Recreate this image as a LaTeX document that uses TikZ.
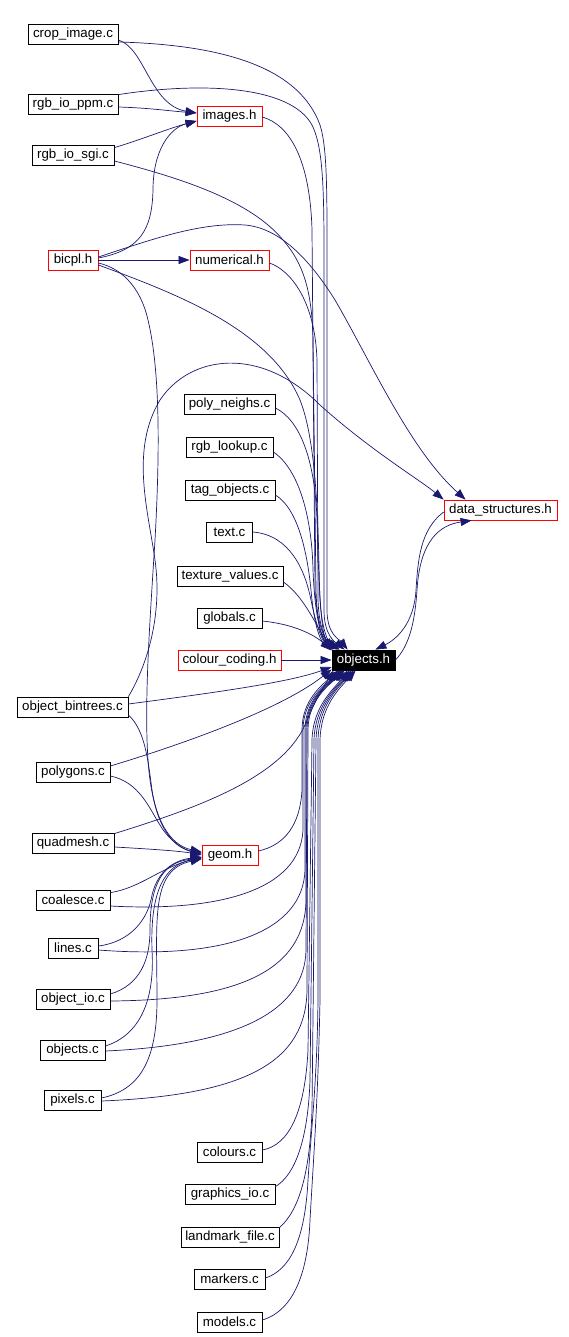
\documentclass[tikz,border=0pt]{standalone}
\usepackage{fontspec}
\setmainfont{Liberation Sans}
\usetikzlibrary{arrows.meta,calc}
\definecolor{mblue}{RGB}{25,25,112}
\tikzset{
  box/.style={draw=black, fill=white, line width=0.8pt, minimum height=20pt, inner sep=0pt, font=\fontsize{13.3}{15}\selectfont},
  rbox/.style={box, draw=red},
  hbox/.style={box, fill=black, text=white},
  edge/.style={draw=mblue, line width=0.7pt, -{Triangle[length=11pt,width=8pt]}}
}
\begin{document}
\begin{tikzpicture}[x=1pt,y=-1pt]
\useasboundingbox (0,0) rectangle (569,1337);
% nodes
\node[box, minimum width=90pt] (crop) at (73,34) {crop\_image.c};
\node[box, minimum width=90pt] (ppm) at (73,104) {rgb\_io\_ppm.c};
\node[box, minimum width=82pt] (sgi) at (73,155) {rgb\_io\_sgi.c};
\node[rbox, minimum width=50pt] (bicpl) at (73,260) {bicpl.h};
\node[rbox, minimum width=65pt] (images) at (229.5,116) {images.h};
\node[rbox, minimum width=79pt] (numerical) at (229.5,260) {numerical.h};
\node[box, minimum width=91pt] (poly) at (229.5,404) {poly\_neighs.c};
\node[box, minimum width=87pt] (lookup) at (229.5,447) {rgb\_lookup.c};
\node[box, minimum width=90pt] (tag) at (230,490) {tag\_objects.c};
\node[box, minimum width=46pt] (text) at (229.5,532) {text.c};
\node[box, minimum width=106pt] (texture) at (230,576) {texture\_values.c};
\node[box, minimum width=65pt] (globals) at (229.5,618) {globals.c};
\node[rbox, minimum width=103pt] (cc) at (229.5,660) {colour\_coding.h};
\node[hbox, minimum width=63pt] (objh) at (363.5,660) {objects.h};
\node[rbox, minimum width=113pt] (ds) at (500.5,510) {data\_structures.h};
\node[box, minimum width=111pt] (bintrees) at (72.5,707) {object\_bintrees.c};
\node[box, minimum width=74pt] (polygons) at (73,772) {polygons.c};
\node[box, minimum width=82pt] (quadmesh) at (73,843) {quadmesh.c};
\node[rbox, minimum width=56pt] (geom) at (230,855) {geom.h};
\node[box, minimum width=74pt] (coalesce) at (73,900) {coalesce.c};
\node[box, minimum width=50pt] (lines) at (73,948) {lines.c};
\node[box, minimum width=74pt] (objio) at (73,999) {object\_io.c};
\node[box, minimum width=65pt] (objc) at (72.5,1050) {objects.c};
\node[box, minimum width=57pt] (pixels) at (72.5,1100) {pixels.c};
\node[box, minimum width=65pt] (colours) at (229.5,1152) {colours.c};
\node[box, minimum width=90pt] (graphics) at (230,1194) {graphics\_io.c};
\node[box, minimum width=98pt] (landmark) at (230,1237) {landmark\_file.c};
\node[box, minimum width=71pt] (markers) at (229.5,1279) {markers.c};
\node[box, minimum width=65pt] (models) at (229.5,1322) {models.c};
% top group
\draw[edge] ($(crop.east)+(0,6)$) .. controls (145,48) and (150,105) .. ($(images.west)+(0,-3)$);
\draw[edge] ($(crop.east)+(0,8)$) .. controls (230,45) and (300,70) .. (320,125) .. controls (328,150) and (327,200) .. (327,300) -- (327,610) .. controls (327,635) and (340,640) .. ($(objh.north west)+(16,0)$);
\draw[edge] ($(ppm.east)+(0,3)$) .. controls (150,108) and (170,111) .. ($(images.west)+(0,-3)$);
\draw[edge] ($(ppm.north east)+(0,1)$) .. controls (200,82) and (290,85) .. (312,125) .. controls (322,145) and (324,180) .. (324,250) -- (324,610) .. controls (324,635) and (335,642) .. ($(objh.north west)+(13,0)$);
\draw[edge] ($(sgi.north east)+(0,3)$) .. controls (140,140) and (170,128) .. ($(images.west)+(0,5)$);
\draw[edge] ($(sgi.east)+(0,6)$) .. controls (180,178) and (250,200) .. (283,240) .. controls (303,263) and (312,290) .. (313,340) -- (316,590) .. controls (317,625) and (322,640) .. ($(objh.north west)+(5,0)$);
\draw[edge] ($(bicpl.east)+(0,-2)$) .. controls (140,250) and (152,230) .. (153,190) .. controls (153,150) and (170,128) .. ($(images.west)+(0,5)$);
\draw[edge] (bicpl.east) -- (numerical.west);
\draw[edge] ($(bicpl.east)+(0,3)$) .. controls (120,268) and (140,285) .. (148,320) .. controls (160,370) and (160,450) .. (155,540) .. controls (150,620) and (144,700) .. (148,760) .. controls (152,820) and (170,845) .. ($(geom.west)+(0,-3)$);
\draw[edge] ($(bicpl.east)+(0,-3)$) .. controls (150,240) and (200,222) .. (245,225) .. controls (280,228) and (310,260) .. (335,300) .. controls (370,360) and (410,450) .. ($(ds.north west)+(22,0)$);
\draw[edge] ($(bicpl.east)+(0,5)$) .. controls (180,295) and (270,330) .. (300,400) .. controls (320,450) and (318,560) .. (320,600) .. controls (322,630) and (328,642) .. ($(objh.north west)+(8,0)$);
\draw[edge] ($(images.east)+(0,1)$) .. controls (290,125) and (310,160) .. (312,230) -- (315,590) .. controls (317,625) and (325,640) .. ($(objh.north west)+(6,0)$);
\draw[edge] ($(numerical.east)+(0,3)$) .. controls (290,270) and (315,300) .. (317,360) -- (318,600) .. controls (319,630) and (327,642) .. ($(objh.north west)+(7,0)$);
% upper-left group
\draw[edge] ($(poly.east)+(0,4)$) .. controls (300,420) and (315,460) .. (317,520) .. controls (319,600) and (322,635) .. ($(objh.north west)+(1,0)$);
\draw[edge] ($(lookup.east)+(0,5)$) .. controls (300,470) and (312,520) .. (313,570) .. controls (315,620) and (322,638) .. (objh.north west);
\draw[edge] ($(tag.east)+(0,5)$) .. controls (300,510) and (308,560) .. (311,590) .. controls (314,625) and (320,640) .. (objh.north west);
\draw[edge] (text.east) .. controls (290,535) and (305,570) .. (311,600) .. controls (316,625) and (322,640) .. ($(objh.north west)+(1,0)$);
\draw[edge] ($(texture.east)+(0,6)$) .. controls (305,597) and (318,630) .. ($(objh.north west)+(2,0)$);
\draw[edge] ($(globals.east)+(0,3)$) .. controls (300,625) and (318,638) .. ($(objh.north west)+(0,1)$);
\draw[edge] (cc.east) -- (objh.west);
% data_structures cycle
\draw[edge] ($(ds.west)+(0,2)$) .. controls (420,530) and (418,560) .. (416,590) .. controls (414,625) and (395,640) .. ($(objh.north east)+(-20,0)$);
\draw[edge] (objh.east) .. controls (410,645) and (415,620) .. (417,590) .. controls (420,540) and (440,525) .. ($(ds.south west)+(28,0)$);
% object_bintrees
\draw[edge] (bintrees.north east) .. controls (150,660) and (162,610) .. (155,560) .. controls (148,510) and (130,450) .. (160,400) .. controls (190,355) and (260,345) .. (320,405) .. controls (370,450) and (420,480) .. (ds.north west);
\draw[edge] ($(bintrees.east)+(0,-3)$) .. controls (220,692) and (290,682) .. ($(objh.west)+(0,7)$);
\draw[edge] ($(bintrees.east)+(0,8)$) .. controls (145,730) and (148,760) .. (152,790) .. controls (158,830) and (175,848) .. ($(geom.west)+(0,-2)$);
% polygons, quadmesh
\draw[edge] ($(polygons.east)+(0,-6)$) .. controls (180,745) and (280,710) .. ($(objh.south west)+(0,-1)$);
\draw[edge] ($(polygons.east)+(0,4)$) .. controls (140,782) and (150,810) .. (160,825) .. controls (170,842) and (185,850) .. ($(geom.west)+(0,-1)$);
\draw[edge] ($(quadmesh.north east)+(0,1)$) .. controls (190,810) and (280,780) .. (305,725) .. controls (315,700) and (325,685) .. ($(objh.south west)+(2,0)$);
\draw[edge] ($(quadmesh.east)+(0,4)$) .. controls (150,849) and (180,851) .. (geom.west);
% lower-left group
\draw[edge] ($(geom.east)+(0,-4)$) .. controls (285,845) and (300,825) .. (302,790) -- (302,730) .. controls (302,700) and (322,685) .. ($(objh.south west)+(7,0)$);
\draw[edge] ($(coalesce.north east)+(0,3)$) .. controls (140,888) and (160,868) .. ($(geom.west)+(0,2)$);
\draw[edge] ($(coalesce.east)+(0,6)$) .. controls (220,912) and (300,890) .. (303,830) -- (303,730) .. controls (303,700) and (325,685) .. ($(objh.south west)+(8,0)$);
\draw[edge] ($(lines.east)+(0,-2)$) .. controls (130,942) and (148,920) .. (152,895) .. controls (158,870) and (175,860) .. ($(geom.west)+(0,2)$);
\draw[edge] ($(lines.east)+(0,2)$) .. controls (230,960) and (303,930) .. (305,870) -- (305,730) .. controls (305,700) and (326,685) .. ($(objh.south west)+(10,0)$);
\draw[edge] ($(objio.east)+(0,-5)$) .. controls (140,985) and (150,960) .. (150,930) .. controls (150,880) and (165,862) .. ($(geom.west)+(0,3)$);
\draw[edge] ($(objio.east)+(0,2)$) .. controls (240,1000) and (305,970) .. (306,900) -- (306,730) .. controls (306,700) and (327,685) .. ($(objh.south west)+(11,0)$);
\draw[edge] ($(objc.east)+(0,-4)$) .. controls (140,1035) and (155,1000) .. (152,950) .. controls (150,890) and (165,865) .. ($(geom.west)+(0,3)$);
\draw[edge] ($(objc.east)+(0,1)$) .. controls (240,1045) and (305,1010) .. (306,950) -- (307,730) .. controls (307,700) and (328,685) .. ($(objh.south west)+(12,0)$);
\draw[edge] ($(pixels.east)+(0,-2)$) .. controls (140,1090) and (157,1060) .. (157,1000) .. controls (157,920) and (150,870) .. ($(geom.west)+(0,4)$);
\draw[edge] ($(pixels.east)+(0,1)$) .. controls (250,1095) and (306,1060) .. (307,990) -- (308,730) .. controls (308,700) and (329,685) .. ($(objh.south west)+(13,0)$);
% bottom group
\draw[edge] ($(colours.east)+(0,-2)$) .. controls (290,1145) and (305,1110) .. (308,1050) -- (312,740) .. controls (313,705) and (335,688) .. ($(objh.south west)+(16,0)$);
\draw[edge] ($(graphics.north east)+(0,3)$) .. controls (295,1175) and (308,1140) .. (310,1080) -- (314,740) .. controls (315,705) and (336,688) .. ($(objh.south west)+(18,0)$);
\draw[edge] ($(landmark.north east)+(0,1)$) .. controls (300,1210) and (310,1170) .. (312,1110) -- (316,740) .. controls (317,705) and (337,688) .. ($(objh.south west)+(20,0)$);
\draw[edge] ($(markers.east)+(0,-1)$) .. controls (290,1270) and (305,1240) .. (308,1180) .. controls (312,1120) and (317,1080) .. (318,1000) -- (318,740) .. controls (319,705) and (338,688) .. ($(objh.south west)+(22,0)$);
\draw[edge] ($(models.east)+(0,-2)$) .. controls (295,1310) and (308,1270) .. (310,1220) .. controls (314,1150) and (318,1100) .. (320,1000) -- (320,740) .. controls (321,705) and (340,688) .. ($(objh.south west)+(24,0)$);
\end{tikzpicture}
\end{document}
